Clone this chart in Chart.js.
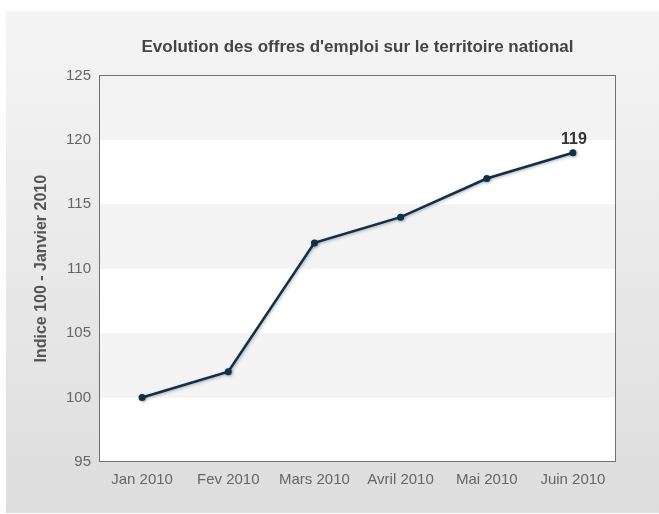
<!DOCTYPE html>
<html>
<head>
<meta charset="utf-8">
<script src="https://cdn.jsdelivr.net/npm/chart.js@4"></script>
<style>
  body { margin: 0; background: #fff; }
</style>
</head>
<body>
<canvas id="offresChart" width="659" height="514"></canvas>
<script>
"use strict";

// data
const months = ['Jan 2010', 'Fev 2010', 'Mars 2010', 'Avril 2010', 'Mai 2010', 'Juin 2010'];
const indexValues = [100, 102, 112, 114, 117, 119];
const yTicks = [95, 100, 105, 110, 115, 120, 125];
const labelledPoint = 5; // only the last point carries its value

const chartTitle = "Evolution des offres d'emploi sur le territoire national";
const yTitle = 'Indice 100 - Janvier 2010';

const fontFamily = '"Liberation Sans", Arial, sans-serif';
const lineColor = '#102f48';

// grey panel behind everything
const panelPlugin = {
  id: 'panel',
  beforeDraw(chart) {
    const ctx = chart.ctx;
    ctx.save();
    ctx.fillStyle = '#fff';
    ctx.fillRect(0, 0, chart.width, chart.height);
    const grad = ctx.createLinearGradient(0, 11, 0, 513);
    grad.addColorStop(0, '#f5f5f5');
    grad.addColorStop(1, '#dddddd');
    ctx.fillStyle = grad;
    ctx.fillRect(6, 11, chart.width - 6, 502);
    ctx.restore();
  }
};

// alternating bands + frame of the plot area
const bandsPlugin = {
  id: 'bands',
  beforeDatasetsDraw(chart) {
    const ctx = chart.ctx;
    const area = chart.chartArea;
    const y = chart.scales.y;
    ctx.save();
    ctx.fillStyle = '#fff';
    ctx.fillRect(area.left, area.top, area.width, area.height);
    ctx.fillStyle = '#f3f3f3';
    for (let i = 0; i < yTicks.length - 1; i++) {
      if (i % 2 === 1) {
        const top = y.getPixelForValue(yTicks[i + 1]);
        const bottom = y.getPixelForValue(yTicks[i]);
        ctx.fillRect(area.left, top, area.width, bottom - top);
      }
    }
    ctx.strokeStyle = '#707070';
    ctx.lineWidth = 1;
    ctx.strokeRect(Math.round(area.left) + 0.5, Math.round(area.top) + 0.5,
                   Math.round(area.width) - 1, Math.round(area.height) - 1);
    ctx.restore();
  },
  beforeDatasetDraw(chart) {
    const ctx = chart.ctx;
    ctx.save();
    ctx.shadowColor = 'rgba(0,0,0,0.3)';
    ctx.shadowBlur = 3;
    ctx.shadowOffsetX = 1;
    ctx.shadowOffsetY = 1;
  },
  afterDatasetDraw(chart) {
    chart.ctx.restore();
  },
  afterDatasetsDraw(chart) {
    const ctx = chart.ctx;
    const pt = chart.getDatasetMeta(0).data[labelledPoint];
    ctx.save();
    ctx.font = 'bold 16px ' + fontFamily;
    ctx.fillStyle = '#333';
    ctx.textAlign = 'center';
    ctx.textBaseline = 'middle';
    ctx.fillText(String(indexValues[labelledPoint]), pt.x + 1, pt.y - 13);
    ctx.restore();
  }
};

const config = {
  type: 'line',
  data: {
    labels: months,
    datasets: [{
      data: indexValues,
      borderColor: lineColor,
      backgroundColor: lineColor,
      borderWidth: 2.5,
      pointRadius: 3.5,
      pointBackgroundColor: lineColor,
      pointBorderWidth: 0,
      tension: 0
    }]
  },
  options: {
    responsive: false,
    animation: false,
    layout: {
      padding: { left: 24, right: 43, top: 0, bottom: 0 }
    },
    plugins: {
      legend: { display: false },
      tooltip: { enabled: false },
      title: {
        display: true,
        fullSize: false,
        text: chartTitle,
        color: '#444',
        font: { family: fontFamily, size: 17, weight: 'bold' },
        padding: { top: 37, bottom: 18 }
      }
    },
    scales: {
      x: {
        offset: true,
        grid: { display: false, drawTicks: false, offset: true },
        border: { display: false },
        ticks: {
          color: '#666',
          padding: 9,
          maxRotation: 0,
          font: { family: fontFamily, size: 15 }
        },
        afterFit(scale) { scale.height = 52; }
      },
      y: {
        min: 95,
        max: 125,
        grid: { display: false, drawTicks: false },
        border: { display: false },
        ticks: {
          stepSize: 5,
          color: '#666',
          padding: 8,
          font: { family: fontFamily, size: 15 }
        },
        title: {
          display: true,
          text: yTitle,
          color: '#555',
          padding: { top: 8, bottom: 0 },
          font: { family: fontFamily, size: 16, weight: 'bold' }
        },
        afterFit(scale) { scale.width = 75; }
      }
    }
  },
  plugins: [panelPlugin, bandsPlugin]
};

const offresChart = new Chart('offresChart', config);
</script>
</body>
</html>
